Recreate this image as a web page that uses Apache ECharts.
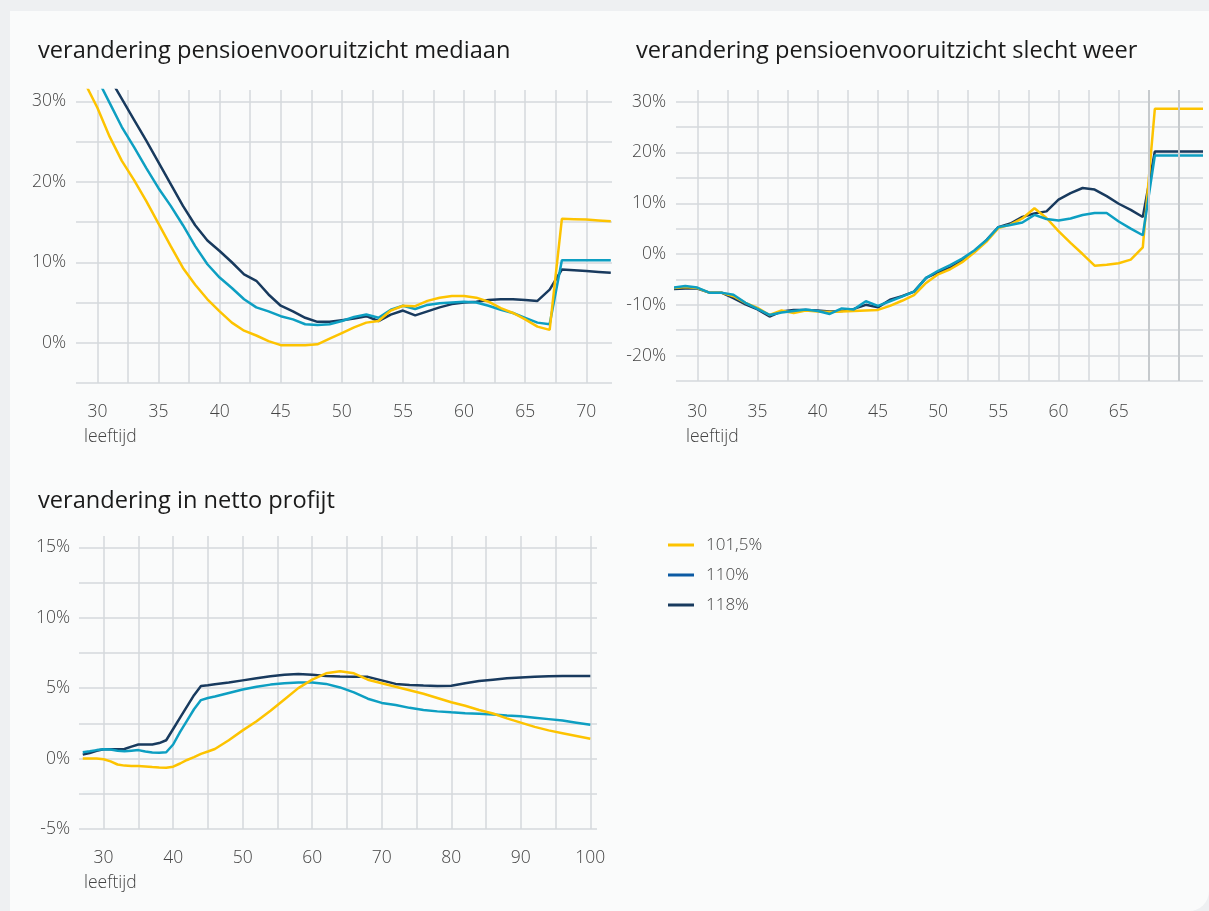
<!DOCTYPE html>
<html>
<head>
<meta charset="utf-8">
<script src="https://cdn.jsdelivr.net/npm/echarts@6/dist/echarts.min.js"></script>
<style>
html,body{margin:0;padding:0;width:1209px;height:911px;background:#eef0f2;overflow:hidden;}
#card{position:absolute;left:10px;top:11px;width:1199px;height:900px;background:#fafbfb;border-bottom-right-radius:20px;}
#chart{position:absolute;left:0;top:0;width:1209px;height:911px;}
</style>
</head>
<body>
<div id="card"></div>
<div id="chart"></div>
<script>
// leeftijden bovenste twee grafieken
var AGES_TOP = [28,29,30,31,32,33,34,35,36,37,38,39,40,41,42,43,44,45,46,47,48,49,50,
                51,52,53,54,55,56,57,58,59,60,61,62,63,64,65,66,67,68,69,70,71,72];

// verandering pensioenvooruitzicht mediaan (%)
var MEDIAAN_1015 = [34.6,32.2,29.2,25.6,22.6,20.2,17.6,14.8,12.0,9.3,7.2,5.4,3.9,2.5,1.5,0.9,0.2,-0.3,-0.3,-0.3,-0.2,0.5,1.2,
                    1.9,2.5,2.7,4.0,4.6,4.55,5.2,5.6,5.8,5.8,5.6,5.1,4.3,3.7,2.9,2.0,1.6,15.4,15.35,15.3,15.2,15.1];
var MEDIAAN_110  = [38.0,35.8,32.8,29.8,26.8,24.3,21.7,19.2,17.0,14.6,12.0,9.75,8.1,6.8,5.4,4.4,3.9,3.3,2.9,2.3,2.2,2.3,2.7,
                    3.2,3.5,3.1,4.1,4.6,4.2,4.7,4.9,5.0,5.1,5.0,4.6,4.1,3.7,3.1,2.5,2.3,10.25,10.25,10.25,10.25,10.25];
var MEDIAAN_118  = [40.2,37.6,35.0,32.9,30.3,27.7,25.1,22.4,19.7,17.0,14.6,12.7,11.4,10.0,8.5,7.7,6.0,4.6,3.9,3.1,2.6,2.6,2.8,
                    3.0,3.3,2.7,3.5,4.0,3.4,3.9,4.4,4.8,5.0,5.1,5.3,5.4,5.4,5.3,5.2,6.6,9.1,9.0,8.9,8.8,8.7];

// verandering pensioenvooruitzicht slecht weer (%)
var WEER_1015 = [-6.7,-6.5,-6.7,-7.6,-7.6,-8.3,-9.6,-10.6,-12.0,-11.1,-11.6,-11.1,-11.3,-11.4,-11.3,-11.2,-11.1,-11.0,-10.2,-9.2,-8.1,-5.7,-4.0,
                 -3.0,-1.6,0.3,2.4,5.1,5.8,7.0,9.0,7.1,4.5,2.2,0.0,-2.3,-2.1,-1.8,-1.1,1.3,28.6,28.6,28.6,28.6,28.6];
var WEER_110  = [-6.6,-6.3,-6.6,-7.6,-7.6,-8.0,-9.6,-10.8,-12.0,-11.5,-11.2,-10.9,-11.2,-11.8,-10.7,-10.9,-9.3,-10.2,-9.3,-8.4,-7.4,-4.7,-3.3,
                 -2.2,-0.9,0.7,2.7,5.3,5.7,6.2,7.7,6.9,6.6,7.0,7.7,8.1,8.1,6.4,5.0,3.7,19.4,19.4,19.4,19.4,19.4];
var WEER_118  = [-6.9,-6.8,-6.8,-7.6,-7.6,-8.7,-9.9,-10.9,-12.3,-11.3,-11.0,-11.0,-11.1,-11.3,-11.2,-10.8,-10.0,-10.5,-9.0,-8.3,-7.4,-4.7,-3.6,
                 -2.7,-1.3,0.5,2.7,5.3,6.0,7.3,8.0,8.4,10.7,12.0,13.0,12.7,11.4,9.9,8.7,7.3,20.2,20.2,20.2,20.2,20.2];

// verandering in netto profijt (%)
var AGES_NETTO = [27,28,29,30,31,32,33,34,35,36,37,38,39,40,41,42,43,44,45,46,
                  48,50,52,54,56,58,60,62,64,66,68,70,72,74,76,78,80,82,84,86,88,90,92,94,96,98,100];
var NETTO_1015 = [0.0,0.0,0.0,-0.05,-0.2,-0.42,-0.5,-0.52,-0.52,-0.56,-0.6,-0.63,-0.65,-0.58,-0.35,-0.1,0.1,0.33,0.5,0.68,
                  1.3,2.0,2.65,3.4,4.2,5.0,5.6,6.05,6.2,6.05,5.6,5.35,5.1,4.85,4.6,4.3,4.0,3.75,3.45,3.2,2.85,2.55,2.25,2.0,1.8,1.6,1.4];
var NETTO_110  = [0.45,0.52,0.6,0.66,0.64,0.55,0.52,0.56,0.6,0.5,0.43,0.42,0.45,1.0,1.9,2.7,3.5,4.15,4.3,4.4,
                  4.65,4.9,5.1,5.25,5.35,5.4,5.4,5.3,5.05,4.7,4.25,3.95,3.8,3.6,3.45,3.35,3.28,3.22,3.18,3.12,3.05,3.0,2.9,2.8,2.7,2.55,2.4];
var NETTO_118  = [0.28,0.4,0.55,0.66,0.66,0.66,0.68,0.85,1.0,1.0,1.0,1.1,1.3,2.1,2.9,3.7,4.5,5.15,5.2,5.28,
                  5.4,5.55,5.7,5.85,5.95,6.0,5.95,5.87,5.83,5.8,5.8,5.55,5.3,5.22,5.18,5.15,5.17,5.35,5.5,5.6,5.7,5.75,5.8,5.85,5.87,5.87,5.87];

// aslabels
var MEDIAAN_X_LABELS = [30,35,40,45,50,55,60,65,70];
var WEER_X_LABELS    = [30,35,40,45,50,55,60,65];
var NETTO_X_LABELS   = [30,40,50,60,70,80,90,100];
var MEDIAAN_Y_LABELS = [0,10,20,30];
var WEER_Y_LABELS    = [-20,-10,0,10,20,30];
var NETTO_Y_LABELS   = [-5,0,5,10,15];

var NAMES = ['101,5%','110%','118%'];
var YELLOW = '#fdc300', TEAL = '#0d9fc2', NAVY = '#183a5e', LEGEND_BLUE = '#0b5aa3';
var FONT = "'Open Sans', 'Noto Sans', sans-serif";
var GRID_LINE = '#d5d9dc';

function steps(a, b, s){ var r = []; for (var v = a; v <= b + 1e-9; v += s) r.push(+v.toFixed(2)); return r; }
function pairs(xs, ys){ return xs.map(function(x, i){ return [x, ys[i]]; }); }

var labelStyle = {color:'#444', fontSize:17.5, fontFamily:FONT, fontWeight:300, lineHeight:18};

function xAxisCfg(gi, min, max, labels, ticks, margin){
    return {type:'value', gridIndex:gi, min:min, max:max,
        axisLine:{show:false}, axisTick:{show:false, customValues:ticks},
        axisLabel:Object.assign({customValues:labels, margin:margin}, labelStyle),
        splitLine:{show:true, lineStyle:{color:GRID_LINE, width:1.5}}};
}
function yAxisCfg(gi, min, max, labels, ticks, margin){
    return {type:'value', gridIndex:gi, min:min, max:max,
        axisLine:{show:false}, axisTick:{show:false, customValues:ticks},
        axisLabel:Object.assign({customValues:labels, margin:margin, formatter:'{value}%'}, labelStyle),
        splitLine:{show:true, lineStyle:{color:GRID_LINE, width:1.5}}};
}
function line(name, color, gi, data){
    return {type:'line', name:name, xAxisIndex:gi, yAxisIndex:gi, data:data,
        symbol:'none', showSymbol:false, clip:true, animation:false,
        lineStyle:{color:color, width:2.5}, itemStyle:{color:color}};
}
function titleCfg(text, left, top, size, weight, color){
    return {text:text, left:left, top:top, padding:0,
        textStyle:{fontSize:size, fontWeight:weight, color:color, fontFamily:FONT}};
}

var weerNavy = line(NAMES[2], NAVY, 1, pairs(AGES_TOP, WEER_118));
weerNavy.markLine = {silent:true, symbol:'none', label:{show:false}, animation:false,
    lineStyle:{color:'#c6cacd', width:2, type:'solid'}, data:[{xAxis:67.5},{xAxis:70}]};

var option = {
    animation:false,
    title:[
        titleCfg('verandering pensioenvooruitzicht mediaan', 38, 39, 23.6, 'normal', '#1a1a1a'),
        titleCfg('verandering pensioenvooruitzicht slecht weer', 636, 39, 23.6, 'normal', '#1a1a1a'),
        titleCfg('verandering in netto profijt', 38, 489, 23.6, 'normal', '#1a1a1a'),
        titleCfg('leeftijd', 84, 428, 17.5, 300, '#444'),
        titleCfg('leeftijd', 686, 428, 17.5, 300, '#444'),
        titleCfg('leeftijd', 84, 874, 17.5, 300, '#444')
    ],
    legend:{orient:'vertical', left:668, top:535, padding:0, icon:'rect', itemWidth:26, itemHeight:3, itemGap:10,
        textStyle:{fontSize:17, color:'#444', fontFamily:FONT, fontWeight:300, lineHeight:20, padding:[0,0,0,7]},
        data:[{name:NAMES[0], itemStyle:{color:YELLOW}},
              {name:NAMES[1], itemStyle:{color:LEGEND_BLUE}},
              {name:NAMES[2], itemStyle:{color:NAVY}}]},
    grid:[
        {left:76, top:90, width:536, height:293},
        {left:676, top:90, width:527, height:291},
        {left:79, top:536, width:518, height:293}
    ],
    xAxis:[
        xAxisCfg(0, 28.25, 72.1, MEDIAAN_X_LABELS, steps(30, 70, 2.5), 20),
        xAxisCfg(1, 28.23, 72, WEER_X_LABELS, steps(30, 70, 2.5), 22),
        xAxisCfg(2, 26.46, 100.96, NETTO_X_LABELS, steps(30, 100, 5), 20)
    ],
    yAxis:[
        yAxisCfg(0, -5, 31.4, MEDIAAN_Y_LABELS, steps(-5, 30, 5), 10),
        yAxisCfg(1, -25, 32.3, WEER_Y_LABELS, steps(-25, 30, 5), 10),
        yAxisCfg(2, -5, 15.8, NETTO_Y_LABELS, steps(-5, 15, 2.5), 9)
    ],
    series:[
        line(NAMES[2], NAVY, 0, pairs(AGES_TOP, MEDIAAN_118)),
        line(NAMES[1], TEAL, 0, pairs(AGES_TOP, MEDIAAN_110)),
        line(NAMES[0], YELLOW, 0, pairs(AGES_TOP, MEDIAAN_1015)),
        weerNavy,
        line(NAMES[0], YELLOW, 1, pairs(AGES_TOP, WEER_1015)),
        line(NAMES[1], TEAL, 1, pairs(AGES_TOP, WEER_110)),
        line(NAMES[2], NAVY, 2, pairs(AGES_NETTO, NETTO_118)),
        line(NAMES[1], TEAL, 2, pairs(AGES_NETTO, NETTO_110)),
        line(NAMES[0], YELLOW, 2, pairs(AGES_NETTO, NETTO_1015))
    ]
};

var chart = echarts.init(document.getElementById('chart'), null, {renderer:'canvas'});
chart.setOption(option);
</script>
</body>
</html>
